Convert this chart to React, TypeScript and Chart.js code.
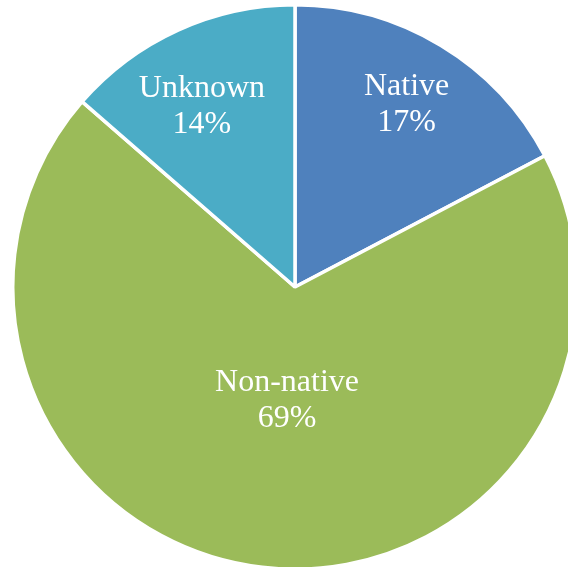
import React, { useEffect, useRef } from "react";
import { Chart, registerables } from "chart.js";

Chart.register(...registerables);

const categories = ["Native", "Non-native", "Unknown"];
const values = [17.3, 69.1, 13.6];
const percentLabels = ["17%", "69%", "14%"];
const colors = ["#4F81BD", "#9BBB59", "#4BACC6"];

const labelPlugin = {
  id: "sliceLabels",
  afterDatasetsDraw(chart: any) {
    const meta = chart.getDatasetMeta(0);
    const ctx = chart.ctx;
    const fractions = [0.765, 0.395, 0.725];
    const angleOffsets = [0, -0.045, -0.045];
    ctx.save();
    ctx.fillStyle = "#ffffff";
    ctx.font = "32px 'Liberation Serif', 'Times New Roman', serif";
    ctx.textAlign = "center";
    ctx.textBaseline = "middle";
    meta.data.forEach((arc: any, i: number) => {
      const p = arc.getProps(["x", "y", "startAngle", "endAngle", "outerRadius"], true);
      const mid = (p.startAngle + p.endAngle) / 2 + angleOffsets[i];
      const r = p.outerRadius * fractions[i];
      const cx = p.x + Math.cos(mid) * r;
      const cy = p.y + Math.sin(mid) * r;
      ctx.fillText(categories[i], cx, cy - 16);
      ctx.fillText(percentLabels[i], cx, cy + 20);
    });
    ctx.restore();
  },
};

export default function App() {
  const ref = useRef<HTMLCanvasElement>(null);
  useEffect(() => {
    if (!ref.current) return;
    const chart = new Chart(ref.current, {
      type: "pie",
      data: {
        labels: categories,
        datasets: [
          {
            data: values,
            backgroundColor: colors,
            borderColor: "#ffffff",
            borderWidth: 3.5,
          },
        ],
      },
      options: {
        responsive: false,
        animation: false,
        layout: { padding: { top: 3, bottom: 3, left: 0, right: 0 } },
        plugins: {
          legend: { display: false },
          tooltip: { enabled: false },
        },
      },
      plugins: [labelPlugin],
    });
    return () => chart.destroy();
  }, []);
  return (
    <div
      style={{
        position: "fixed",
        left: 0,
        top: 0,
        width: 568,
        height: 567,
        overflow: "hidden",
        background: "#ffffff",
      }}
    >
      <canvas ref={ref} width={590} height={574} style={{ width: 590, height: 574, display: "block" }} />
    </div>
  );
}
